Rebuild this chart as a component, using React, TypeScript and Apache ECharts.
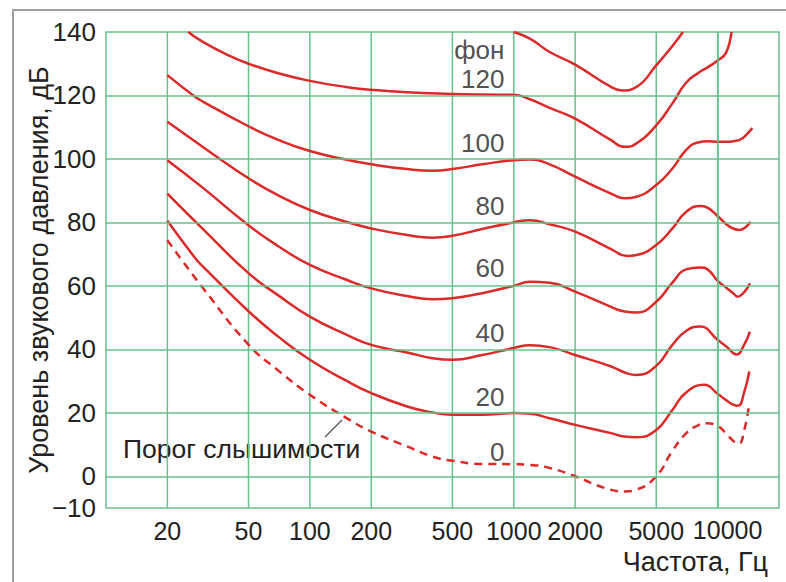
import React, { useEffect, useRef } from "react";
import * as echarts from "echarts";

// Frequencies (Hz) and levels (dB)
const phon140: [number, number][] = [
  [1000, 140], [1200, 137.9], [1500, 133.7], [2000, 129.7], [3000, 122.7], [3400, 121.6],
  [4000, 122.7], [5000, 129.5], [6000, 135.6], [6760, 140],
];
const phon120: [number, number][] = [
  [25.3, 140], [30, 136.8], [40, 132.6], [50, 130], [70, 127], [100, 124.6], [150, 122.7],
  [200, 121.8], [300, 121], [500, 120.5], [700, 120.3], [1000, 120.2], [1200, 118.8], [1500, 116.1],
  [2000, 112.7], [3000, 105.9], [3500, 103.8], [4000, 104.9], [5000, 110.6], [6000, 117.5],
  [7000, 124], [8000, 127], [9000, 129], [10000, 131], [11000, 133.5], [11700, 140],
];
const phon100: [number, number][] = [
  [20, 126.4], [26.8, 120], [30, 118], [50, 110.3], [70, 106], [100, 102.5], [150, 99.8], [200, 98.3],
  [300, 96.8], [400, 96.3], [500, 96.8], [700, 98.3], [1000, 99.6], [1200, 99.8], [1500, 98.3],
  [2000, 94.4], [3000, 89.1], [3500, 87.6], [4000, 88.1], [5000, 91.8], [6000, 97], [7000, 102.8],
  [8000, 105.2], [9000, 105.6], [10000, 105.4], [11000, 105.4], [12000, 105.6], [13000, 106.2],
  [14000, 108], [14800, 109.7],
];
const phon80: [number, number][] = [
  [20, 111.7], [30, 103.7], [36.2, 100], [50, 93.9], [70, 88.5], [100, 83.9], [150, 80.2], [200, 78.1],
  [300, 76], [400, 75.2], [500, 75.8], [700, 77.9], [1000, 80], [1200, 80.7], [1500, 79.4],
  [2000, 77.1], [3000, 71.6], [3600, 69.4], [4000, 69.7], [5000, 72.9], [6000, 78.1], [7000, 83.3],
  [8300, 85.2], [9000, 84.5], [10000, 82], [11000, 79.5], [12000, 78], [12800, 77.6],
  [13700, 78.5], [14500, 80.2],
];
const phon60: [number, number][] = [
  [20, 99.6], [30, 90.8], [50, 79.1], [70, 72.5], [100, 66.6], [150, 62], [200, 59.2],
  [300, 56.8], [400, 55.8], [500, 56.1], [700, 57.7], [1000, 60], [1200, 61.3], [1500, 61],
  [2000, 58.2], [3000, 53.4], [3500, 51.9], [4000, 51.6], [5000, 55], [6000, 61], [7000, 65.2],
  [8200, 65.8], [9000, 65], [10000, 61.6], [11000, 59.5], [12000, 57.5], [12500, 56.6],
  [13500, 58], [14400, 60.8],
];
const phon40: [number, number][] = [
  [20, 89.1], [30, 77.8], [50, 64], [70, 57], [100, 50.3], [150, 44.7], [200, 41.4],
  [300, 39], [400, 37.2], [500, 36.7], [700, 38.2], [1000, 40.4], [1200, 41.3], [1500, 40.7],
  [2000, 38.2], [3000, 34.6], [3500, 32.7], [4000, 31.9], [5000, 34.8], [6000, 41.4], [7000, 45.8],
  [8200, 47.2], [10000, 43], [11000, 41], [12400, 38.4], [13500, 41.5], [14400, 45.6],
];
const phon20: [number, number][] = [
  [20, 80.5], [27.8, 68.2], [30, 66], [50, 52], [70, 44], [100, 36.7], [150, 30.2], [200, 26.2],
  [300, 22], [400, 20.1], [500, 19.4], [700, 19.4], [1000, 19.9], [1200, 19.7], [1500, 18.3],
  [2000, 16.2], [3000, 13.6], [3500, 12.5], [4000, 12.3], [5000, 14.6], [6000, 20.9], [7000, 26.4],
  [8600, 28.8], [10000, 26], [11000, 24], [12000, 22.5], [12600, 22.2], [13500, 26.5], [14300, 33],
];
const threshold: [number, number][] = [
  [20, 74.4], [23.5, 68.2], [30, 59.2], [50, 41.5], [70, 33.3], [100, 25.7], [150, 18.5], [200, 14.1],
  [300, 9.4], [400, 6.2], [500, 4.9], [700, 3.9], [1000, 3.8], [1200, 3.6], [1500, 2.6],
  [2000, 0], [2800, -3.7], [3500, -4.8], [4000, -4.2], [5000, 0], [6000, 8], [7000, 13.5],
  [8000, 16], [8800, 16.7], [10000, 15.8], [11000, 13.5], [12000, 11], [12700, 10.3],
  [13500, 14.5], [14300, 23],
];

const freqTicks = [20, 50, 100, 200, 500, 1000, 2000, 5000, 10000];
const dbGrid = [0, 20, 40, 60, 80, 100, 120];
const curveLabels = ["фон", "120", "100", "80", "60", "40", "20", "0"];
const curveLabelDb = [134.2, 125.1, 105, 85.1, 65.6, 45.2, 25, 7.7];
const curveLabelFreq = 900;

const RED = "#da2a2a";
const GREEN = "#69c08a";
const TEXT = "#222";
const FONT = "Liberation Sans, Arial, sans-serif";
const Y_MIN = -10;
const Y_MAX = 140;

export default function App() {
  const ref = useRef<HTMLDivElement>(null);
  useEffect(() => {
    if (!ref.current) return;
    const chart = echarts.init(ref.current, null, { renderer: "svg" });
    const curves = [phon140, phon120, phon100, phon80, phon60, phon40, phon20];
    const lineSeries: any[] = curves.map((d) => ({
      type: "line",
      data: d,
      showSymbol: false,
      smooth: 0.5,
      z: 3,
      lineStyle: { color: RED, width: 2.5 },
    }));
    lineSeries.push({
      type: "line",
      data: threshold,
      showSymbol: false,
      smooth: 0.5,
      z: 3,
      lineStyle: { color: RED, width: 2.5, type: [8, 6] },
    });
    // vertical grid lines as plain line series through the log axis
    const gridSeries: any[] = freqTicks.map((f) => ({
      type: "line",
      data: [[f, Y_MIN], [f, Y_MAX]],
      showSymbol: false,
      silent: true,
      z: 1,
      lineStyle: { color: GREEN, width: 1.5 },
    }));
    const lastTick = freqTicks[freqTicks.length - 1];
    chart.setOption({
      animation: false,
      backgroundColor: "#fff",
      textStyle: { fontFamily: FONT },
      grid: {
        left: 106,
        top: 32,
        right: 7,
        bottom: 74,
        show: true,
        borderColor: GREEN,
        borderWidth: 1.5,
      },
      xAxis: {
        type: "log",
        logBase: 10,
        min: 10,
        max: 20000,
        axisLine: { show: false },
        axisTick: { show: false },
        splitLine: { show: false },
        axisLabel: {
          customValues: freqTicks.slice(0, -1),
          formatter: (v: number) => String(Math.round(v)),
          fontSize: 25,
          color: TEXT,
          margin: 10,
          fontFamily: FONT,
        },
      },
      yAxis: {
        type: "value",
        min: Y_MIN,
        max: Y_MAX,
        interval: 10,
        name: "Уровень звукового давления, дБ",
        nameLocation: "middle",
        nameGap: 54,
        nameMoveOverlap: false,
        nameTextStyle: { fontSize: 27, color: TEXT, fontFamily: FONT },
        axisLine: { show: false },
        axisTick: { show: false },
        splitLine: { show: false },
        axisLabel: {
          fontSize: 26,
          color: TEXT,
          margin: 10,
          fontFamily: FONT,
          formatter: (v: number) => (v === -10 ? "−10" : v % 20 === 0 ? String(v) : ""),
        },
      },
      graphic: [
        {
          type: "rect",
          shape: { x: 13, y: 10, width: 900, height: 700 },
          style: { fill: "none", stroke: "#a0a0a0", lineWidth: 2 },
          z: 0,
        },
        {
          type: "text",
          x: 768,
          y: 562,
          style: {
            text: "Частота, Гц",
            fontSize: 27,
            fill: TEXT,
            fontFamily: FONT,
            textAlign: "right",
            textVerticalAlign: "middle",
          },
        },
        {
          type: "text",
          x: 123,
          y: 449,
          style: {
            text: "Порог слышимости",
            fontSize: 26.5,
            fill: TEXT,
            fontFamily: FONT,
            textAlign: "left",
            textVerticalAlign: "middle",
          },
        },
        {
          type: "line",
          shape: { x1: 325, y1: 437, x2: 342, y2: 420 },
          style: { stroke: "#555", lineWidth: 1.2 },
        },
      ],
      series: [
        {
          type: "line",
          data: [[10, Y_MIN], [20000, Y_MAX]],
          showSymbol: false,
          lineStyle: { opacity: 0 },
          silent: true,
          z: 1,
          markLine: {
            silent: true,
            symbol: "none",
            label: { show: false },
            lineStyle: { color: GREEN, width: 1.5, type: "solid" },
            data: [
              [
                {
                  coord: [lastTick, Y_MIN],
                  label: {
                    show: true,
                    position: "start",
                    formatter: String(lastTick),
                    fontSize: 25,
                    color: TEXT,
                    fontFamily: FONT,
                    distance: 9,
                    offset: [10, 0],
                  },
                },
                { coord: [lastTick, Y_MAX] },
              ],
              ...dbGrid.map((d) => ({ yAxis: d })),
            ],
          },
        },
        ...gridSeries,
        ...lineSeries,
        {
          type: "scatter",
          symbolSize: 0,
          z: 4,
          data: curveLabels.map((t, i) => ({
            value: [curveLabelFreq, curveLabelDb[i]],
            name: t,
          })),
          label: {
            show: true,
            position: "left",
            distance: 0,
            formatter: (p: any) => p.name,
            fontSize: 26,
            color: TEXT,
            fontFamily: FONT,
          },
        },
      ],
    });
    return () => chart.dispose();
  }, []);
  return (
    <div
      ref={ref}
      style={{ position: "fixed", left: 0, top: 0, width: 786, height: 582, background: "#fff" }}
    />
  );
}
